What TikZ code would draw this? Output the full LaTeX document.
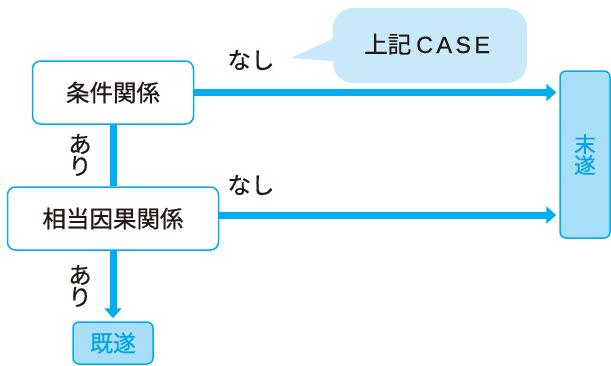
\documentclass[tikz,border=0pt]{standalone}
\usepackage{fontspec}
\setmainfont{Noto Sans CJK JP}[FakeBold=0.6]
\newfontfamily\latinfont{Liberation Sans}[LetterSpace=14, FakeBold=0.4]
\usetikzlibrary{arrows.meta}
\definecolor{cblue}{HTML}{00AEEF}
\definecolor{lfill}{HTML}{A9DEF7}
\definecolor{cfill}{HTML}{C8E9F8}
\definecolor{tdark}{HTML}{231815}
\definecolor{tblue}{HTML}{00A5E6}
\tikzset{
  txt/.style={font=\fontsize{23.5}{25}\selectfont, text=tdark, inner sep=0pt},
  mainbox/.style={draw=cblue, line width=1.5pt, rounded corners=8pt, fill=white, txt},
  endbox/.style={draw=cblue, line width=1.5pt, rounded corners=6pt, fill=lfill, text=tblue, inner sep=0pt},
  conn/.style={draw=cblue, line width=7pt},
  arr/.style={conn, -{Triangle[length=10pt,width=17pt]}, shorten >=3pt},
}
\begin{document}
\begin{tikzpicture}[x=1pt,y=-1pt]
\useasboundingbox (0,0) rectangle (611,365);
% callout
\fill[cfill] (291,58) -- (345,33) -- (345,62) -- cycle;
\node[fill=cfill, rounded corners=20pt, minimum width=194pt, minimum height=75pt, inner sep=0pt] (callout) at (430,45.5) {};
\node[txt, anchor=base west] (ctext) at (364,53) {上記\hspace{5pt}{\latinfont CASE}};
% boxes
\node[mainbox, minimum width=161pt, minimum height=63pt] (jk) at (113,92.5) {条件関係};
\node[mainbox, minimum width=211pt, minimum height=63pt] (sk) at (113,218.5) {相当因果関係};
\node[endbox, font=\fontsize{21.5}{22}\selectfont, minimum width=50pt, minimum height=167pt, align=center] (mi) at (585,154.5) {末\\[-1pt]遂};
\node[endbox, font=\fontsize{23}{24}\selectfont, minimum width=80pt, minimum height=42pt] (ki) at (113,343) {既遂};
% connectors
\draw[conn] (jk.south) -- (sk.north);
\draw[arr] (jk.east) -- (jk.east -| mi.west);
\draw[arr] ([yshift=3.5pt]sk.east) -- ([yshift=3.5pt]sk.east -| mi.west);
\draw[arr] (sk.south) -- (ki.north);
% labels
\node[txt] (n1) at (251,60) {なし};
\node[txt] (n2) at (251,185) {なし};
\node[txt, align=center] (a1) at (80,155) {あ\\[-3pt]り};
\node[txt, align=center] (a2) at (80,286) {あ\\[-3pt]り};
\end{tikzpicture}
\end{document}
